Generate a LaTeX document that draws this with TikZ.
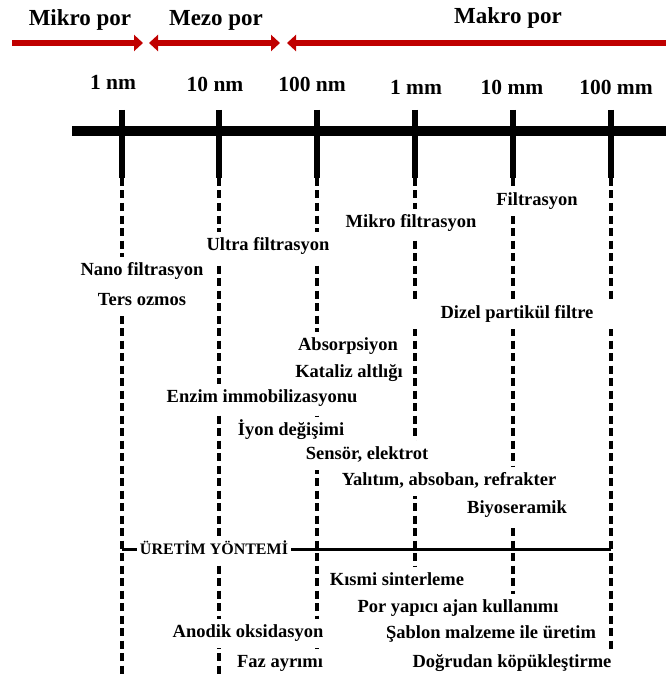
\documentclass[tikz,border=0pt]{standalone}
\usepackage{fontspec}
\setmainfont{Liberation Serif}
\usetikzlibrary{arrows.meta}
\definecolor{porred}{HTML}{C00000}

\begin{document}
\begin{tikzpicture}[x=1pt, y=-1pt,
    porarrow/.style={line width=6pt, porred},
    porlbl/.style={font=\fontsize{23}{27}\selectfont\bfseries, anchor=base, inner sep=0pt},
    scalelbl/.style={font=\fontsize{21.5}{25}\selectfont\bfseries, anchor=base, inner sep=0pt},
    tickmark/.style={line width=6.5pt},
    kolon/.style={line width=3.5pt, dash pattern=on 8pt off 4.5pt},
    app/.style={fill=white, inner xsep=3pt, inner ysep=6pt, text height=13pt, text depth=4pt,
        font=\fontsize{18.5}{22}\selectfont\bfseries},
    uretim/.style={app, font=\fontsize{16}{20}\selectfont\bfseries}]
    \useasboundingbox (0,0) rectangle (666,676);

    % por sinifi oklari
    \node[porlbl] (mikrolbl) at (80,26) {Mikro por};
    \node[porlbl] (mezolbl) at (216,26) {Mezo por};
    \node[porlbl] (makrolbl) at (508,24) {Makro por};
    \coordinate (a0) at (12,43);
    \coordinate (a1) at (143,43);
    \coordinate (a2) at (149,43);
    \coordinate (a3) at (280,43);
    \coordinate (a4) at (287,43);
    \coordinate (a5) at (666,43);
    \draw[porarrow, -{Triangle[length=9pt,width=16pt]}] (a0) -- (a1);
    \draw[porarrow, {Triangle[length=9pt,width=16pt]}-{Triangle[length=9pt,width=16pt]}] (a2) -- (a3);
    \draw[porarrow, {Triangle[length=9pt,width=16pt]}-] (a4) -- (a5);

    % olcek
    \node[scalelbl] (s1) at (113,90) {1 nm};
    \node[scalelbl] (s2) at (215,92) {10 nm};
    \node[scalelbl] (s3) at (312,92) {100 nm};
    \node[scalelbl] (s4) at (416,95) {1 mm};
    \node[scalelbl] (s5) at (512,95) {10 mm};
    \node[scalelbl] (s6) at (616,95) {100 mm};
    \coordinate (ax0) at (72,131);
    \coordinate (ax1) at (666,131);
    \draw[line width=10pt] (ax0) -- (ax1);
    \foreach \x/\e [count=\i] in {122/676, 219/676, 317/676, 415/566, 513/594, 611/676} {
        \coordinate (k\i) at (\x,110);
        \coordinate (m\i) at (\x,178);
        \coordinate (e\i) at (\x,\e);
        \draw[tickmark] (k\i) -- (m\i);
        \draw[kolon] (m\i) -- (e\i);
    }

    % uretim yontemi cizgisi
    \coordinate (u1) at (122,549);
    \coordinate (u6) at (611,549);
    \draw[line width=3pt] (u1) -- (u6);

    % uygulamalar
    \node[app] (nano) at (142,271) {Nano filtrasyon};
    \node[app] (ters) at (142,301) {Ters ozmos};
    \node[app] (ultra) at (268,246) {Ultra filtrasyon};
    \node[app] (mikro) at (411,223) {Mikro filtrasyon};
    \node[app] (filt) at (537,201) {Filtrasyon};
    \node[app, minimum width=210pt] (dizel) at (517,314) {Dizel partikül filtre};
    \node[app] (abs) at (348,346) {Absorpsiyon};
    \node[app] (kat) at (349,373) {Kataliz altlığı};
    \node[app] (enzim) at (262,398) {Enzim immobilizasyonu};
    \node[app] (iyon) at (291,431) {İyon değişimi};
    \node[app] (sensor) at (367,455) {Sensör, elektrot};
    \node[app] (yalitim) at (449,481) {Yalıtım, absoban, refrakter};
    \node[app] (biyo) at (517,509) {Biyoseramik};

    % uretim yontemleri
    \node[uretim] (uretim) at (214,550) {ÜRETİM YÖNTEMİ};
    \node[app] (kismi) at (397,581) {Kısmi sinterleme};
    \node[app] (poryap) at (458,608) {Por yapıcı ajan kullanımı};
    \node[app] (sablon) at (491,634) {Şablon malzeme ile üretim};
    \node[app] (anodik) at (248,633) {Anodik oksidasyon};
    \node[app] (dogru) at (512,663) {Doğrudan köpükleştirme};
    \node[app] (faz) at (280,663) {Faz ayrımı};
\end{tikzpicture}
\end{document}
